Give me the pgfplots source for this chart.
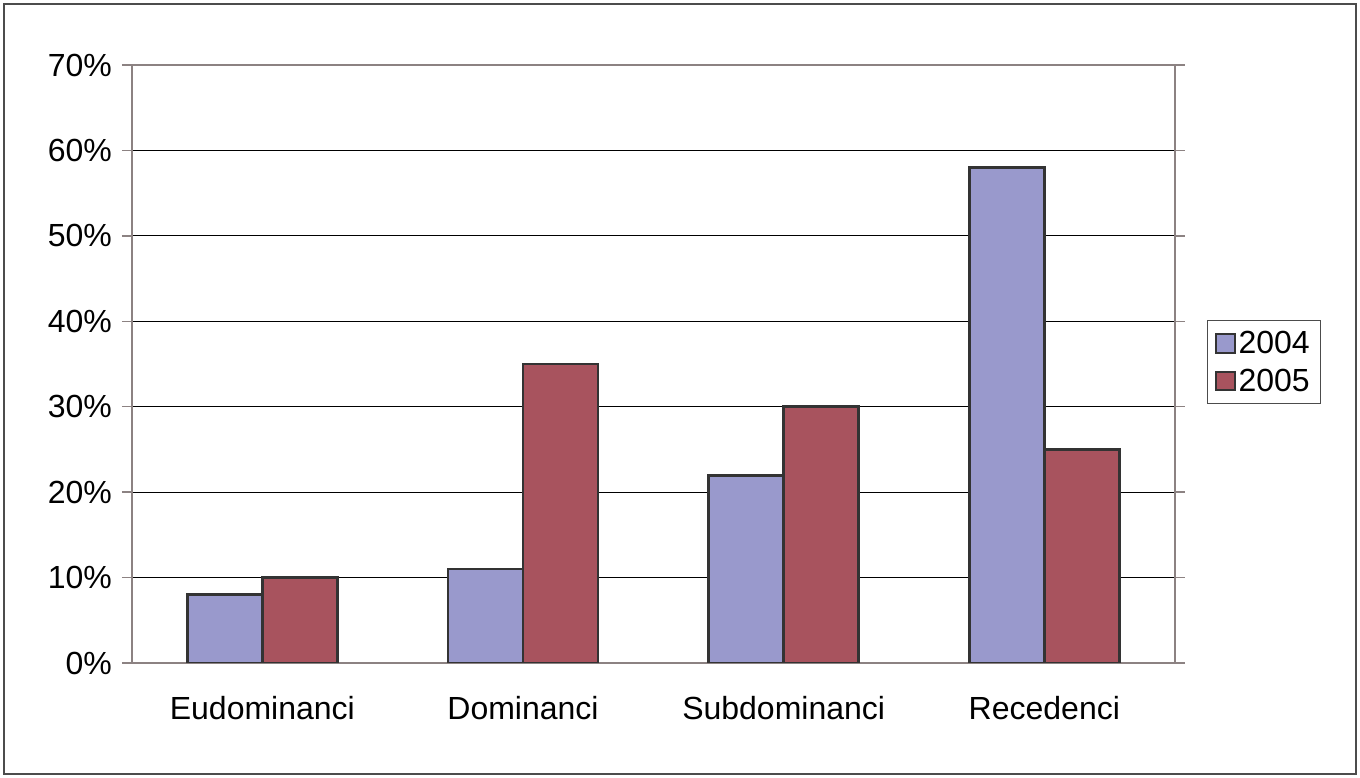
\documentclass[border=0pt]{standalone}
\usepackage{pgfplots}
\pgfplotsset{compat=1.18}
\usepackage{fontspec}
\setmainfont{Liberation Sans}
\definecolor{cA}{HTML}{9999CC}
\definecolor{cB}{HTML}{A8535E}
\definecolor{ax}{HTML}{8C8282}
\begin{document}
\begin{tikzpicture}
\path (0,0) rectangle (1020pt,583.5pt);
\draw[line width=0.8pt, black!70] (3pt,3pt) rectangle (1017pt,580.5pt);
\begin{axis}[
  at={(99pt,86.25pt)}, anchor=south west,
  width=782pt, height=448.5pt, scale only axis,
  xmin=-0.5, xmax=3.5, ymin=0, ymax=70,
  ybar=0pt, bar width=56.25pt,
  axis line style={ax, line width=1.5pt},
  font=\fontsize{24}{28}\selectfont,
  /pgf/number format/assume math mode=true,
  ytick={0,10,...,70}, yticklabel={\pgfmathprintnumber{\tick}\%},
  ymajorgrids, grid style={black, line width=0.6pt},
  tick style={ax, line width=1pt}, tick align=outside, major tick length=7.5pt,
  xtick={0,1,2,3}, xticklabels={Eudominanci,Dominanci,Subdominanci,Recedenci},
  x tick style={draw=none},
  extra x ticks={-0.5,0.5,1.5,2.5,3.5}, extra x tick labels={},
  extra x tick style={grid=none, tick style={ax, line width=1pt, draw=ax}},
  xticklabel style={yshift=-14pt},
  yticklabel style={xshift=-4pt},
  legend style={at={(1.0307,0.503)}, anchor=west, draw=black!70, line width=0.8pt,
    font=\fontsize{24}{28}\selectfont, row sep=6pt, inner sep=6pt},
  legend image code/.code={\draw[#1, line width=1.5pt] (0pt,-7pt) rectangle (14pt,7pt);},
  every axis plot/.append style={draw=black!80, line width=2.2pt},
]
\addplot[fill=cA] coordinates {(0,8) (1,11) (2,22) (3,58)};
\addplot[fill=cB] coordinates {(0,10) (1,35) (2,30) (3,25)};
\legend{2004,2005}
\end{axis}
\end{tikzpicture}
\end{document}
